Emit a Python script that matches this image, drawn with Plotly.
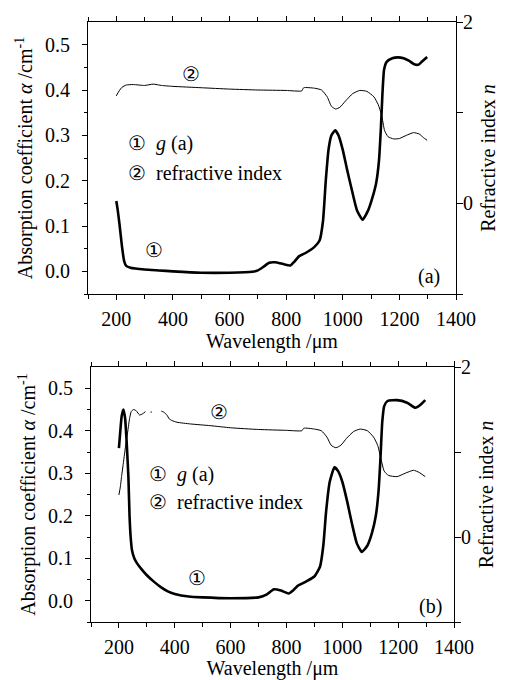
import plotly.graph_objects as go

# ---------------- data ----------------
# Panel (a)
wl_a1 = [200, 205, 212, 220, 228, 235, 250, 300, 350, 400, 500, 600, 680, 700, 720, 740, 760, 790, 815,
         830, 845, 870, 900, 918, 930, 940, 950, 960, 973, 985, 1000, 1015, 1030, 1050, 1070, 1090, 1105,
         1118, 1128, 1135, 1140, 1146, 1155, 1175, 1195, 1215, 1235, 1255, 1268, 1280, 1298]
alpha_a = [0.155, 0.135, 0.100, 0.055, 0.022, 0.012, 0.008, 0.004, 0.002, 0.000, -0.003, -0.003, -0.001,
           0.002, 0.010, 0.019, 0.020, 0.016, 0.013, 0.022, 0.033, 0.041, 0.054, 0.068, 0.110, 0.200,
           0.270, 0.300, 0.311, 0.300, 0.268, 0.225, 0.185, 0.135, 0.114, 0.135, 0.163, 0.195, 0.245,
           0.320, 0.390, 0.445, 0.462, 0.470, 0.472, 0.470, 0.464, 0.456, 0.456, 0.463, 0.473]

wl_a2 = [200, 210, 220, 235, 260, 300, 330, 360, 400, 500, 600, 700, 800, 855, 862, 900, 925, 945, 960,
         975, 990, 1010, 1035, 1060, 1085, 1110, 1125, 1137, 1148, 1160, 1180, 1200, 1225, 1250, 1270,
         1285, 1298]
n_a = [1.185, 1.24, 1.28, 1.305, 1.31, 1.30, 1.315, 1.30, 1.29, 1.275, 1.26, 1.25, 1.245, 1.24, 1.275,
       1.27, 1.25, 1.175, 1.07, 1.04, 1.06, 1.13, 1.21, 1.245, 1.235, 1.175, 1.09, 0.975, 0.80, 0.735,
       0.71, 0.715, 0.75, 0.78, 0.765, 0.725, 0.695]

# Panel (b)
wl_b1 = [200, 205, 210, 216, 222, 228, 234, 238, 242, 247, 255, 265, 280, 300, 325, 350, 375, 400, 450,
         500, 600, 700, 730, 755, 780, 808, 825, 840, 870, 900, 920, 932, 942, 955, 972, 985, 1000, 1018,
         1035, 1052, 1070, 1090, 1106, 1120, 1130, 1137, 1143, 1150, 1162, 1196, 1232, 1262, 1280, 1297]
alpha_b = [0.359, 0.400, 0.435, 0.450, 0.430, 0.370, 0.290, 0.200, 0.150, 0.118, 0.100, 0.088, 0.075,
           0.060, 0.045, 0.032, 0.022, 0.016, 0.010, 0.008, 0.006, 0.008, 0.015, 0.027, 0.024, 0.017,
           0.025, 0.035, 0.045, 0.057, 0.080, 0.130, 0.210, 0.280, 0.314, 0.305, 0.280, 0.232, 0.180,
           0.135, 0.115, 0.130, 0.159, 0.200, 0.260, 0.340, 0.420, 0.458, 0.470, 0.472, 0.466, 0.454,
           0.461, 0.472]

wl_b2 = [200, 205, 210, 215, 220, 226, 232, 238, 244, 252, 262, 274, 285, 295, None, 313, 318, None,
         352, 360, 372, 380, 390, 408, 456, 527, 600, 700, 800, 855, 862, 900, 925, 945, 960, 977, 995,
         1015, 1040, 1064, 1090, 1112, 1127, 1138, 1150, 1165, 1196, 1225, 1255, 1275, 1297]
n_b = [0.495, 0.59, 0.725, 0.85, 0.975, 1.125, 1.25, 1.39, 1.475, 1.50, 1.485, 1.435, 1.45, 1.475, None,
       1.47, 1.47, None, 1.48, 1.47, 1.435, 1.39, 1.37, 1.35, 1.33, 1.31, 1.285, 1.265, 1.255, 1.25,
       1.28, 1.27, 1.25, 1.175, 1.08, 1.05, 1.08, 1.16, 1.24, 1.27, 1.25, 1.175, 1.075, 0.925, 0.775,
       0.725, 0.71, 0.75, 0.785, 0.76, 0.71]

x_ticks = [200, 400, 600, 800, 1000, 1200, 1400]
left_ticks = [0.0, 0.1, 0.2, 0.3, 0.4, 0.5]
right_ticks = [0, 2]

# ---------------- figure ----------------
FONT = "Liberation Serif, Times New Roman, Times, serif"
FS = 20
OFF = 8                      # the page body adds an 8 px margin
W, H = 505 - OFF, 680 - OFF

fig = go.Figure()
fig.add_trace(go.Scatter(x=wl_a1, y=alpha_a, mode="lines",
                         line=dict(color="black", width=2.6, shape="spline", smoothing=0.5),
                         xaxis="x", yaxis="y", showlegend=False))
fig.add_trace(go.Scatter(x=wl_a2, y=n_a, mode="lines",
                         line=dict(color="black", width=1, shape="spline", smoothing=0.5),
                         xaxis="x", yaxis="y2", showlegend=False))
fig.add_trace(go.Scatter(x=wl_b1, y=alpha_b, mode="lines",
                         line=dict(color="black", width=2.6, shape="spline", smoothing=0.5),
                         xaxis="x2", yaxis="y3", showlegend=False))
fig.add_trace(go.Scatter(x=wl_b2, y=n_b, mode="lines",
                         line=dict(color="black", width=1, shape="spline", smoothing=0.5),
                         xaxis="x2", yaxis="y4", showlegend=False, connectgaps=False))

def xax(domain, anchor):
    return dict(domain=domain, anchor=anchor, range=[100, 1400], tickvals=x_ticks, automargin=False,
                ticks="outside", ticklen=5, tickwidth=1, tickcolor="black", ticklabelstandoff=2,
                minor=dict(tickvals=[100, 300, 500, 700, 900, 1100, 1300], ticks="outside", ticklen=4,
                           tickcolor="black"),
                showline=True, linecolor="black", linewidth=1.2, mirror="ticks",
                showgrid=False, zeroline=False,
                tickfont=dict(family=FONT, size=FS, color="black"),
                title=dict(text="Wavelength /μm", font=dict(family=FONT, size=FS, color="black"),
                           standoff=0))

def yleft(domain, anchor):
    return dict(domain=domain, anchor=anchor, range=[-0.05, 0.55], tickvals=left_ticks, automargin=False,
                tickformat=".1f", ticks="outside", ticklen=5, tickcolor="black", ticklabelstandoff=8,
                minor=dict(tickvals=[-0.05, 0.05, 0.15, 0.25, 0.35, 0.45], ticks="outside",
                           ticklen=3, tickcolor="black"),
                showline=True, linecolor="black", linewidth=1.2, mirror=True,
                showgrid=False, zeroline=False,
                tickfont=dict(family=FONT, size=FS, color="black"),
                title=dict(text="Absorption coefficient <i>α</i> /cm<sup>-1</sup>",
                           font=dict(family=FONT, size=FS, color="black"), standoff=6))

def yright(overlay, anchor):
    return dict(overlaying=overlay, anchor=anchor, side="right", range=[-1, 2], tickvals=right_ticks,
                automargin=False, ticks="outside", ticklen=6, tickcolor="black", ticklabelstandoff=-4,
                minor=dict(tickvals=[-1, 1], ticks="outside", ticklen=6, tickcolor="black"),
                showline=True, linecolor="black", linewidth=1.2,
                showgrid=False, zeroline=False,
                tickfont=dict(family=FONT, size=FS, color="black"),
                title=dict(text="Refractive index <i>n</i>",
                           font=dict(family=FONT, size=FS, color="black"), standoff=8))

def px_x(a, b):
    return [(a - OFF) / W, (b - OFF) / W]

def px_y(top, bottom):
    return [(H - (bottom - OFF)) / H, (H - (top - OFF)) / H]

top_x = px_x(88, 456)
top_y = px_y(22, 294)
bot_x = px_x(91, 454)
bot_y = px_y(367, 622)

ann_font = dict(family=FONT, size=FS, color="black")
NB = "\u00a0"
annotations = [
    dict(x=464, y=0.436, xref="x", yref="y", text="②", showarrow=False, font=ann_font),
    dict(x=334, y=0.046, xref="x", yref="y", text="①", showarrow=False, font=ann_font),
    dict(x=233, y=0.282, xref="x", yref="y", text="①" + NB * 2 + "<i>g</i> (a)", showarrow=False,
         xanchor="left", font=ann_font),
    dict(x=233, y=0.217, xref="x", yref="y", text="②" + NB * 2 + "refractive index", showarrow=False,
         xanchor="left", font=ann_font),
    dict(x=1350, y=-0.011, xref="x", yref="y", text="(a)", showarrow=False, xanchor="right",
         font=ann_font),
    dict(x=557, y=0.445, xref="x2", yref="y3", text="②", showarrow=False, font=ann_font),
    dict(x=480, y=0.053, xref="x2", yref="y3", text="①", showarrow=False, font=ann_font),
    dict(x=300, y=0.296, xref="x2", yref="y3", text="①" + NB * 2 + "<i>g</i> (a)", showarrow=False,
         xanchor="left", font=ann_font),
    dict(x=300, y=0.233, xref="x2", yref="y3", text="②" + NB * 2 + "refractive index", showarrow=False,
         xanchor="left", font=ann_font),
    dict(x=1363, y=-0.014, xref="x2", yref="y3", text="(b)", showarrow=False, xanchor="right",
         font=ann_font),
]

fig.update_layout(
    width=W, height=H,
    margin=dict(l=0, r=0, t=0, b=0, autoexpand=False),
    paper_bgcolor="white", plot_bgcolor="white",
    font=dict(family=FONT, size=FS, color="black"),
    xaxis=xax(top_x, "y"),
    yaxis=yleft(top_y, "x"),
    yaxis2=yright("y", "x"),
    xaxis2=xax(bot_x, "y3"),
    yaxis3=yleft(bot_y, "x2"),
    yaxis4=yright("y3", "x2"),
    annotations=annotations,
)

fig.write_html("out.html")
